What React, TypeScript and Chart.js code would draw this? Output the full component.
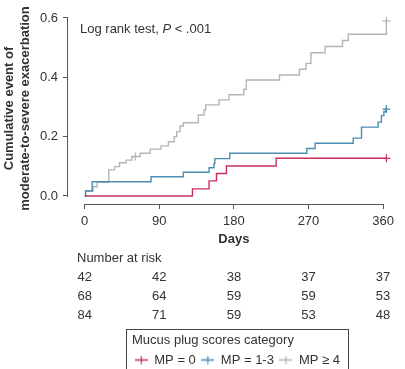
import React, { useEffect, useRef } from 'react';
import { Chart, registerables } from 'chart.js';

Chart.register(...registerables);

const FONT = "'Liberation Sans', Arial, Helvetica, sans-serif";
const TEXT = '#333333';
const AXIS = '#555555';

// ---- data ----
const seriesLabels = ['MP = 0', 'MP = 1-3', 'MP \u2265 4'];
const seriesColors = ['#c8305e', '#4b8db1', '#b5b5b5'];

const mp0Days = [0, 130, 150, 159, 171, 231, 364];
const mp0Risk = [0, 0.024, 0.051, 0.076, 0.101, 0.127, 0.127];
const mp0Censored = [364];

const mp13Days = [0, 1, 9, 80, 119, 150, 156, 157, 175, 268, 278, 324, 334, 354, 358, 361, 363, 364];
const mp13Risk = [0, 0.017, 0.048, 0.065, 0.08, 0.095, 0.11, 0.126, 0.144, 0.16, 0.178, 0.195, 0.232, 0.249, 0.271, 0.284, 0.293, 0.293];
const mp13Censored = [364];

const mp4Days = [0, 1, 10, 15, 29, 36, 42, 50, 57, 61, 67, 79, 92, 101, 108, 111, 115, 119, 137, 144, 146, 162, 174, 192, 195, 235, 259, 267, 273, 290, 311, 318, 364];
const mp4Risk = [0, 0.017, 0.031, 0.046, 0.088, 0.099, 0.112, 0.121, 0.133, 0.133, 0.144, 0.158, 0.169, 0.183, 0.2, 0.217, 0.236, 0.247, 0.273, 0.29, 0.307, 0.324, 0.341, 0.36, 0.391, 0.408, 0.427, 0.447, 0.483, 0.504, 0.524, 0.545, 0.59];
const mp4Censored = [61, 364];

const xTicks = [0, 90, 180, 270, 360];
const yTicks = [0, 0.2, 0.4, 0.6];

const riskDays = [0, 90, 180, 270, 360];
const riskMP0 = [42, 42, 38, 37, 37];
const riskMP13 = [68, 64, 59, 59, 53];
const riskMP4 = [84, 71, 59, 53, 48];

const yTitle = ['Cumulative event of', 'moderate-to-severe exacerbation'];
const xTitle = 'Days';
const legendTitle = 'Mucus plug scores category';
const annotation = ['Log rank test, ', 'P', ' < .001'];

function makeMarker(color: string): HTMLCanvasElement {
  const c = document.createElement('canvas');
  c.width = 13;
  c.height = 9;
  const g = c.getContext('2d')!;
  g.strokeStyle = color;
  g.lineWidth = 1.3;
  g.beginPath();
  g.moveTo(0, 4.5);
  g.lineTo(13, 4.5);
  g.moveTo(6.5, 0.5);
  g.lineTo(6.5, 8.5);
  g.stroke();
  return c;
}

const decorPlugin = {
  id: 'decor',
  afterLayout(chart: any) {
    const lg = chart.legend;
    if (lg) {
      lg.left += 3.5;
      lg.right += 3.5;
    }
  },
  afterDraw(chart: any) {
    const { ctx, chartArea: ca, scales } = chart;
    const xs = scales.x;
    const ys = scales.y;
    ctx.save();
    // R-style axis lines spanning tick range
    ctx.strokeStyle = AXIS;
    ctx.lineWidth = 1;
    ctx.beginPath();
    const ax = Math.round(ca.left) - 0.5;
    const yTop = Math.round(ys.getPixelForValue(yTicks[yTicks.length - 1]));
    const yBot = Math.round(ys.getPixelForValue(yTicks[0]));
    ctx.moveTo(ax, yTop);
    ctx.lineTo(ax, yBot + 1);
    const ay = Math.round(ca.bottom) + 0.5;
    const xL = Math.round(xs.getPixelForValue(xTicks[0]));
    const xR = Math.round(xs.getPixelForValue(xTicks[xTicks.length - 1]));
    ctx.moveTo(xL, ay);
    ctx.lineTo(xR + 1, ay);
    ctx.stroke();

    // annotation
    ctx.fillStyle = TEXT;
    ctx.textBaseline = 'middle';
    ctx.textAlign = 'left';
    let tx = ca.left + 12;
    const ty = ca.top + 16;
    annotation.forEach((part, i) => {
      ctx.font = `${i === 1 ? 'italic ' : ''}13px ${FONT}`;
      ctx.fillText(part, tx, ty);
      tx += ctx.measureText(part).width;
    });

    // number at risk table
    ctx.font = `13px ${FONT}`;
    ctx.textAlign = 'left';
    ctx.fillText('Number at risk', ca.left + 9, ca.bottom + 54);
    ctx.textAlign = 'center';
    [riskMP0, riskMP13, riskMP4].forEach((row, r) => {
      row.forEach((n, i) => {
        ctx.fillText(String(n), xs.getPixelForValue(riskDays[i]), ca.bottom + 73 + r * 19);
      });
    });

    // legend frame
    const lg = chart.legend;
    if (lg && lg.legendHitBoxes && lg.legendHitBoxes.length) {
      const hb = lg.legendHitBoxes;
      const first = hb[0];
      const last = hb[hb.length - 1];
      const left = Math.round(first.left - 9) + 0.5;
      const right = Math.round(last.left + last.width + 8) + 0.5;
      const top = Math.round(lg.top) + 0.5;
      ctx.strokeStyle = '#444444';
      ctx.lineWidth = 1;
      ctx.strokeRect(left, top, right - left, chart.height - top + 10);
    }
    ctx.restore();
  },
};

export default function App() {
  const ref = useRef<HTMLCanvasElement | null>(null);

  useEffect(() => {
    if (!ref.current) return;
    const markers = seriesColors.map(makeMarker);
    const groups = [
      { days: mp0Days, risk: mp0Risk, cens: mp0Censored },
      { days: mp13Days, risk: mp13Risk, cens: mp13Censored },
      { days: mp4Days, risk: mp4Risk, cens: mp4Censored },
    ];
    const datasets = groups.map((g, k) => ({
      label: seriesLabels[k],
      data: g.days.map((d, i) => ({ x: d, y: g.risk[i] })),
      borderColor: seriesColors[k],
      backgroundColor: seriesColors[k],
      borderWidth: 1.4,
      stepped: true,
      fill: false,
      pointStyle: 'cross',
      pointRadius: (c: any) => (c.raw && g.cens.includes(c.raw.x) ? 4 : 0),
      pointHoverRadius: 0,
      pointBorderWidth: 1.2,
      pointBorderColor: seriesColors[k],
    }));

    const chart = new Chart(ref.current, {
      type: 'line',
      data: { datasets },
      options: {
        responsive: false,
        animation: false,
        events: [],
        layout: { padding: { top: 13, left: 0, right: 0, bottom: -7.5 } },
        scales: {
          x: {
            type: 'linear',
            min: -20.2,
            max: 380.2,
            afterBuildTicks: (s: any) => {
              s.ticks = xTicks.map((v) => ({ value: v }));
            },
            afterFit: (s: any) => {
              s.height = 125;
            },
            border: { display: false },
            grid: { display: true, drawOnChartArea: false, drawTicks: true, tickLength: 5, color: AXIS, lineWidth: 1 },
            ticks: { color: TEXT, font: { family: FONT, size: 13 }, padding: 5, maxRotation: 0, autoSkip: false },
            title: {
              display: true,
              text: xTitle,
              color: TEXT,
              font: { family: FONT, size: 13, weight: 'bold', lineHeight: 1.2 },
              padding: { top: 0, bottom: 81.7 },
            },
          },
          y: {
            type: 'linear',
            min: -0.027,
            max: 0.6168,
            afterBuildTicks: (s: any) => {
              s.ticks = yTicks.map((v) => ({ value: v }));
            },
            afterFit: (s: any) => {
              s.width = 68;
            },
            border: { display: false },
            grid: { display: true, drawOnChartArea: false, drawTicks: true, tickLength: 5, color: AXIS, lineWidth: 1 },
            ticks: {
              color: TEXT,
              font: { family: FONT, size: 13 },
              padding: 5,
              autoSkip: false,
              callback: (v: any) => Number(v).toFixed(1),
            },
            title: {
              display: true,
              text: yTitle,
              color: TEXT,
              font: { family: FONT, size: 13, weight: 'bold', lineHeight: 16 / 13 },
              padding: { top: 1, bottom: 0 },
            },
          },
        },
        plugins: {
          tooltip: { enabled: false },
          legend: {
            display: true,
            position: 'bottom',
            fullSize: false,
            align: 'center',
            title: {
              display: true,
              text: legendTitle,
              position: 'start',
              color: TEXT,
              font: { family: FONT, size: 13, lineHeight: 1 },
              padding: { top: 5, bottom: 1 },
            },
            labels: {
              usePointStyle: true,
              pointStyleWidth: 13,
              boxHeight: 13,
              padding: 5.5,
              color: TEXT,
              font: { family: FONT, size: 13 },
              generateLabels: (ch: any) => {
                const base = (Chart as any).defaults.plugins.legend.labels.generateLabels(ch);
                return base.map((it: any, i: number) => ({ ...it, pointStyle: markers[i], fontColor: TEXT }));
              },
            },
          },
        },
      } as any,
      plugins: [decorPlugin as any],
    });
    return () => chart.destroy();
  }, []);

  return (
    <div style={{ position: 'fixed', left: 0, top: 0, width: 405, height: 369, background: '#fff' }}>
      <canvas ref={ref} width={405} height={369} style={{ display: 'block' }} />
    </div>
  );
}
